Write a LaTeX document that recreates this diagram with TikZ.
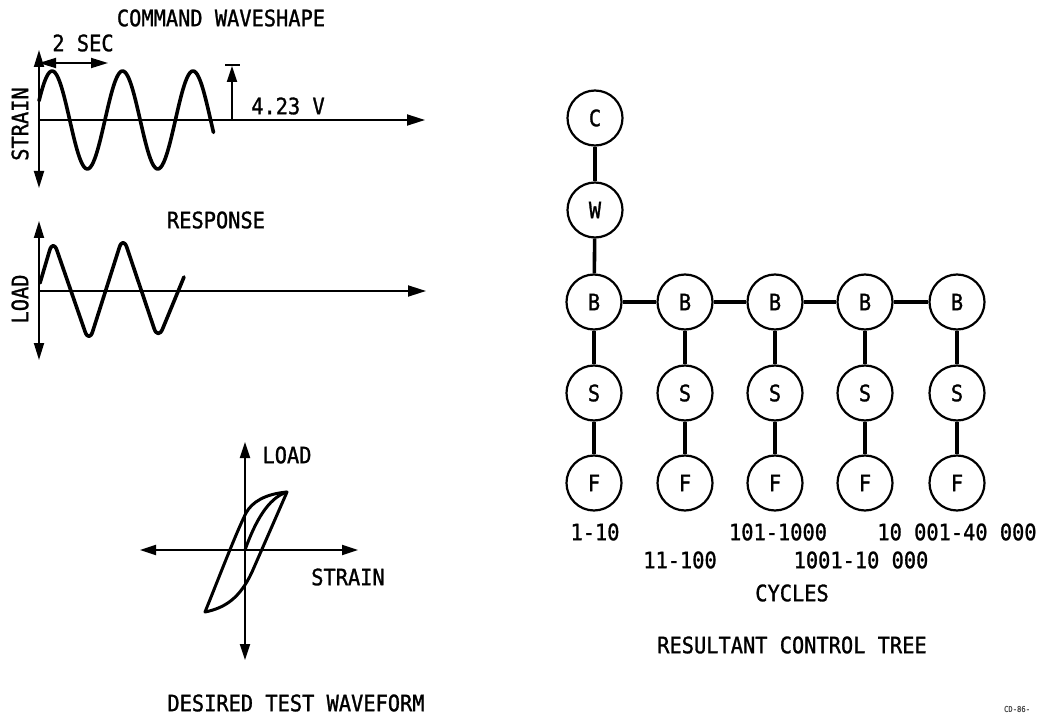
\documentclass[tikz,border=0pt]{standalone}
\usepackage{fontspec}
\setmainfont[FakeStretch=0.9,FakeBold=1.2]{DejaVu Sans Mono}
\usetikzlibrary{arrows.meta}
\begin{document}
\begin{tikzpicture}[x=1pt,y=-1pt,
  lbl/.style={font=\fontsize{22.6}{25}\selectfont, inner sep=0pt},
  axis/.style={line width=1.8pt, -{Triangle[length=18pt,width=11pt]}},
  daxis/.style={line width=1.8pt, {Triangle[length=17pt,width=10pt]}-{Triangle[length=17pt,width=10pt]}},
  wave/.style={line width=3.6pt, line join=round, line cap=round},
  tnode/.style={circle, draw, line width=2.2pt, minimum size=55pt, inner sep=0pt, font=\fontsize{22.6}{25}\selectfont},
  tlink/.style={line width=3.6pt}]
\useasboundingbox (0,0) rectangle (1043,719);

% ---------- COMMAND WAVESHAPE ----------
\node[lbl] (t1) at (221,18) {COMMAND WAVESHAPE};
\node[lbl] (sec) at (83,43) {2 SEC};
\coordinate (c0) at (39,120);
\coordinate (ctop) at (39,50);
\coordinate (cbot) at (39,188);
\coordinate (cend) at (425,120);
\draw[daxis] (ctop) -- (cbot);
\draw[axis] (c0) -- (cend);
\coordinate (sa) at (39,63);
\coordinate (sb) at (108,63);
\draw[daxis] (sa) -- (sb);
\draw[wave] plot[domain=39:213.5, samples=120, smooth] (\x, {120-49*sin(5.11*(\x-34.5))});
\coordinate (va) at (232,120);
\coordinate (vb) at (232,66);
\draw[line width=1.8pt, -{Triangle[length=16pt,width=10pt]}] (va) -- (vb);
\coordinate (bl) at (225,65);
\coordinate (br) at (240,65);
\draw[line width=1.8pt] (bl) -- (br);
\node[lbl] (volt) at (288,106) {4.23 V};
\node[lbl, rotate=90] (strain1) at (20,124) {STRAIN};

% ---------- RESPONSE ----------
\node[lbl] (t2) at (216,220) {RESPONSE};
\coordinate (r0) at (39,291);
\coordinate (rtop) at (39,221);
\coordinate (rbot) at (39,360);
\coordinate (rend) at (426,291);
\draw[daxis] (rtop) -- (rbot);
\draw[axis] (r0) -- (rend);
\draw[wave, rounded corners=12pt] (40,283) -- (53,239) -- (89,343) -- (123,236) -- (158,340) -- (184,277);
\node[lbl, rotate=90] (load1) at (20,299) {LOAD};

% ---------- DESIRED TEST WAVEFORM ----------
\coordinate (h0) at (245,550);
\coordinate (htop) at (245,442);
\coordinate (hbot) at (245,660);
\coordinate (hl) at (140,550);
\coordinate (hr) at (358,550);
\draw[line width=1.8pt, -{Triangle[length=16pt,width=10pt]}] (h0) -- (htop);
\draw[line width=1.8pt, -{Triangle[length=16pt,width=10pt]}] (h0) -- (hbot);
\draw[line width=1.8pt, -{Triangle[length=16pt,width=10pt]}] (h0) -- (hl);
\draw[line width=1.8pt, -{Triangle[length=16pt,width=10pt]}] (h0) -- (hr);
\draw[line width=3pt, line join=round]
  (205,612) .. controls (220,575) and (236,533) .. (246,513)
  .. controls (252,502) and (265,494) .. (287,492)
  -- (252,572) .. controls (240,598) and (225,608) .. (205,612) -- cycle;
\draw[line width=3pt] (h0) .. controls (255,522) and (268,498) .. (287,492);
\node[lbl] (load2) at (287,455) {LOAD};
\node[lbl] (strain2) at (348,577) {STRAIN};
\node[lbl] (t3) at (296,703) {DESIRED TEST WAVEFORM};

% ---------- RESULTANT CONTROL TREE ----------
\node[tnode] (C) at (595,118) {C};
\node[tnode] (W) at (595,210) {W};
\foreach \i/\x in {1/594,2/685,3/775,4/865,5/957}{
  \node[tnode] (B\i) at (\x,302) {B};
  \node[tnode] (S\i) at (\x,393) {S};
  \node[tnode] (F\i) at (\x,483) {F};
  \draw[tlink] (B\i) -- (S\i);
  \draw[tlink] (S\i) -- (F\i);
}
\draw[tlink] (C) -- (W);
\draw[tlink] (W) -- (B1);
\draw[tlink] (B1) -- (B2);
\draw[tlink] (B2) -- (B3);
\draw[tlink] (B3) -- (B4);
\draw[tlink] (B4) -- (B5);
\node[lbl] (c1) at (595,532) {1-10};
\node[lbl] (c2) at (680,560) {11-100};
\node[lbl] (c3) at (778,532) {101-1000};
\node[lbl] (c4) at (861,560) {1001-10 000};
\node[lbl] (c5) at (957,532) {10 001-40 000};
\node[lbl] (cyc) at (792,593) {CYCLES};
\node[lbl] (t4) at (792,645) {RESULTANT CONTROL TREE};
\node[font=\fontsize{8}{9}\selectfont, inner sep=0pt, text=black!70] (cd) at (1017,709) {CD-86-};
\end{tikzpicture}
\end{document}
